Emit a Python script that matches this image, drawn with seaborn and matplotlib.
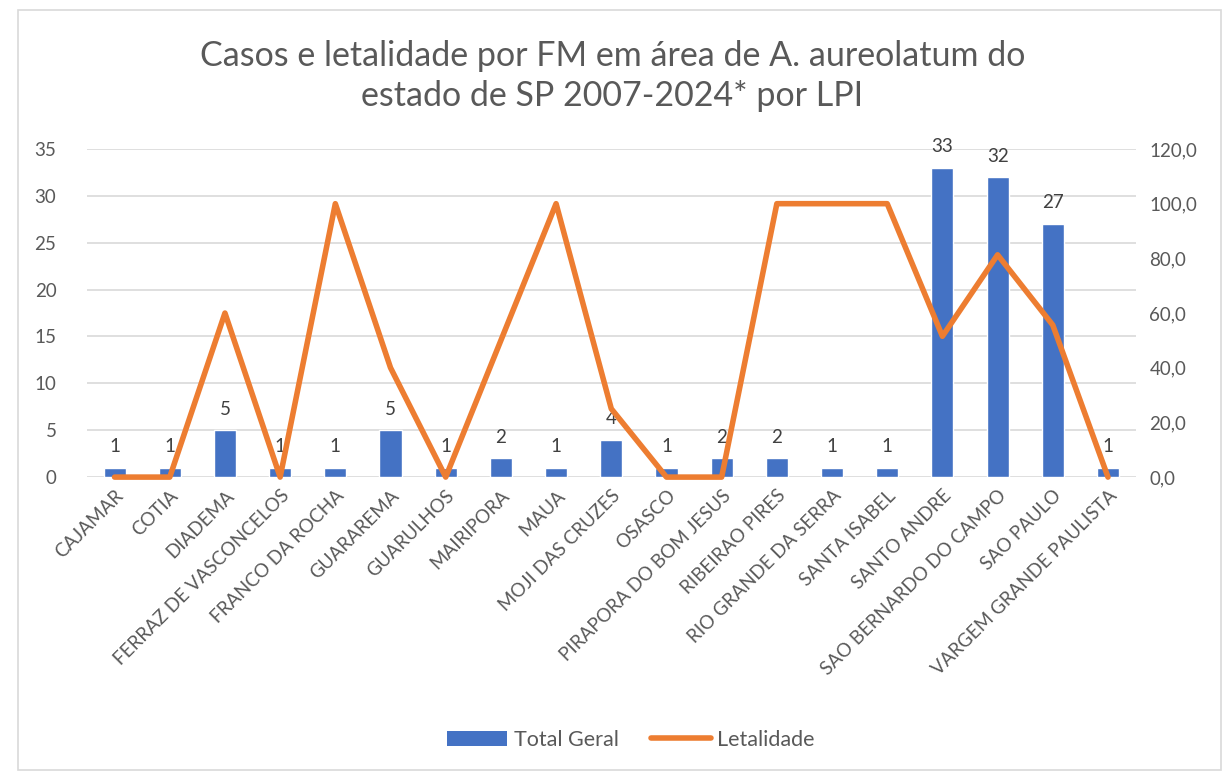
import numpy as np
import pandas as pd
import matplotlib
matplotlib.use("Agg")
import matplotlib.pyplot as plt
import seaborn as sns
from matplotlib.patches import Patch, Rectangle
from matplotlib.lines import Line2D

# Data
municipios = [
    "CAJAMAR", "COTIA", "DIADEMA", "FERRAZ DE VASCONCELOS", "FRANCO DA ROCHA",
    "GUARAREMA", "GUARULHOS", "MAIRIPORA", "MAUA", "MOJI DAS CRUZES", "OSASCO",
    "PIRAPORA DO BOM JESUS", "RIBEIRAO PIRES", "RIO GRANDE DA SERRA",
    "SANTA ISABEL", "SANTO ANDRE", "SAO BERNARDO DO CAMPO", "SAO PAULO",
    "VARGEM GRANDE PAULISTA",
]
total_geral = [1, 1, 5, 1, 1, 5, 1, 2, 1, 4, 1, 2, 2, 1, 1, 33, 32, 27, 1]
letalidade = [0.0, 0.0, 60.0, 0.0, 100.0, 40.0, 0.0, 50.0, 100.0, 25.0, 0.0,
              0.0, 100.0, 100.0, 100.0, 51.5, 81.3, 55.6, 0.0]

left_ticks = [0, 5, 10, 15, 20, 25, 30, 35]
right_ticks = [0, 20, 40, 60, 80, 100, 120]

BLUE = "#4472C4"
ORANGE = "#ED7D31"
TXT = "#595959"

df = pd.DataFrame({"municipio": municipios, "total": total_geral, "letalidade": letalidade})

sns.set_style("white")
plt.rcParams["font.family"] = ["Lato", "DejaVu Sans"]

fig = plt.figure(figsize=(12.25, 7.72), dpi=100)
ax = fig.add_axes([0.071, 0.382, 0.856, 0.425])

sns.barplot(data=df, x="municipio", y="total", color=BLUE, width=0.4,
            saturation=1, ax=ax, zorder=2)
ax.set_ylim(0, 35)
ax.set_yticks(left_ticks)
ax.yaxis.grid(True, color="#D9D9D9", linewidth=1.2, zorder=0)
ax.set_axisbelow(True)
ax.set_xlabel("")
ax.set_ylabel("")
for s in ax.spines.values():
    s.set_visible(False)
ax.tick_params(axis="y", length=0, labelsize=13.5, labelcolor=TXT, pad=22)
ax.tick_params(axis="x", length=0, labelsize=13.5, labelcolor=TXT, pad=7)
plt.setp(ax.get_xticklabels(), rotation=45, ha="right", rotation_mode="anchor")

for i, v in enumerate(total_geral):
    ax.annotate(str(v), (i, v), xytext=(0, 9), textcoords="offset points",
                ha="center", va="bottom", fontsize=13.5, color="#404040")

ax2 = ax.twinx()
sns.lineplot(data=df, x="municipio", y="letalidade", sort=False, color=ORANGE,
             linewidth=4, ax=ax2, clip_on=False, zorder=3)
ax2.set_ylim(0, 120)
ax2.set_yticks(right_ticks)
ax2.set_yticklabels([f"{t:.1f}".replace(".", ",") for t in right_ticks])
ax2.set_ylabel("")
ax2.set_xlabel("")
for s in ax2.spines.values():
    s.set_visible(False)
ax2.tick_params(axis="y", length=0, labelsize=13.5, labelcolor=TXT, pad=10)
ax.set_xlim(-0.5, len(municipios) - 0.5)

fig.suptitle("Casos e letalidade por FM em área de A. aureolatum do\nestado de SP 2007-2024* por LPI",
             x=0.5, y=0.902, va="center", fontsize=24.5, color=TXT, linespacing=1.3)

handles = [Patch(facecolor=BLUE, edgecolor="none"),
           Line2D([0], [0], color=ORANGE, linewidth=4)]
fig.legend(handles, ["Total Geral", "Letalidade"], loc="center",
           bbox_to_anchor=(0.515, 0.042), ncol=2, frameon=False,
           fontsize=15.5, labelcolor=TXT, handlelength=2.8, handletextpad=0.3,
           columnspacing=1.5)

fig.patches.append(Rectangle((0.015, 0.003), 0.982, 0.984, transform=fig.transFigure,
                             fill=False, edgecolor="#D9D9D9", linewidth=1.2))

fig.savefig("out.png", dpi=100)
